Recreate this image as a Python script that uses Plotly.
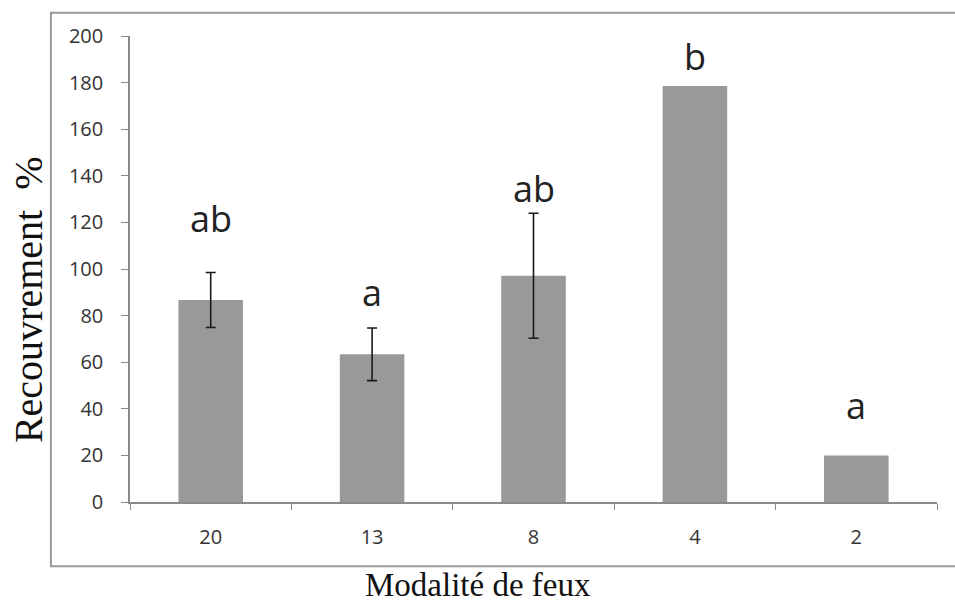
import plotly.graph_objects as go

# Fire-frequency treatments and mean cover (%) with standard errors
categories = ["20", "13", "8", "4", "2"]
cover = [86.7, 63.4, 97.1, 178.5, 20.0]
err_categories = ["20", "13", "8"]
err_centers = [86.7, 63.4, 97.1]
cover_err = [11.8, 11.3, 26.8]
group_letters = ["ab", "a", "ab", "b", "a"]
letter_y = [114.6, 82.8, 127.5, 184.0, 34.3]   # baseline height of each letter group
y_ticks = [0, 20, 40, 60, 80, 100, 120, 140, 160, 180, 200]

bar_color = "#999999"
axis_color = "#8a8a8a"
tick_font = dict(family="Open Sans, sans-serif", size=20, color="#333333")
serif = "Liberation Serif, Times New Roman, serif"

fig = go.Figure()
fig.add_trace(go.Bar(
    x=categories,
    y=cover,
    marker=dict(color=bar_color, line=dict(width=0)),
    width=0.4,
    showlegend=False,
    hoverinfo="x+y",
))

# Standard-error whiskers (only the treatments that have replicates)
fig.add_trace(go.Scatter(
    x=err_categories,
    y=err_centers,
    mode="markers",
    marker=dict(size=1, color="rgba(0,0,0,0)"),
    error_y=dict(type="data", array=cover_err, visible=True,
                 color="#1a1a1a", thickness=1.6, width=5),
    showlegend=False,
    hoverinfo="skip",
))

# Letters of the post-hoc groups, placed by category index
for i, (txt, ly) in enumerate(zip(group_letters, letter_y)):
    fig.add_annotation(x=i, y=ly, text=txt, showarrow=False,
                       xref="x", yref="y", yanchor="bottom", yshift=-10,
                       font=dict(family="Open Sans, sans-serif", size=36, color="#222222"))

# Axis titles
fig.add_annotation(text="Modalité de feux", xref="paper", yref="paper",
                   x=0.431, y=-0.178, xanchor="center", yanchor="middle",
                   showarrow=False, font=dict(family=serif, size=33, color="#111111"))
fig.add_annotation(text="Recouvrement  %", xref="paper", yref="paper",
                   x=-0.125, y=0.4335, xanchor="center", yanchor="middle",
                   textangle=-90, showarrow=False,
                   font=dict(family=serif, size=40, color="#111111"))

# Outer chart frame
fig.add_shape(type="rect", xref="paper", yref="paper",
              x0=-0.098, x1=1.03, y0=-0.138, y1=1.05,
              line=dict(color="#9a9a9a", width=2), layer="below")

fig.update_layout(
    width=955, height=609,
    margin=dict(l=130, r=18, t=36, b=107),
    paper_bgcolor="white", plot_bgcolor="white",
    bargap=0.6,
    xaxis=dict(
        type="category",
        range=[-0.5, 4.5],
        showline=True, linecolor=axis_color, linewidth=1.5,
        ticks="outside", tickson="boundaries", ticklen=6, tickcolor=axis_color,
        tickfont=tick_font, ticklabelstandoff=16,
        showgrid=False, zeroline=False,
    ),
    yaxis=dict(
        range=[0, 200], tickvals=y_ticks,
        showline=True, linecolor=axis_color, linewidth=1.5,
        ticks="outside", ticklen=7, tickcolor=axis_color,
        tickfont=tick_font, ticklabelstandoff=14,
        showgrid=False, zeroline=False,
    ),
)

fig.write_html("out.html")
